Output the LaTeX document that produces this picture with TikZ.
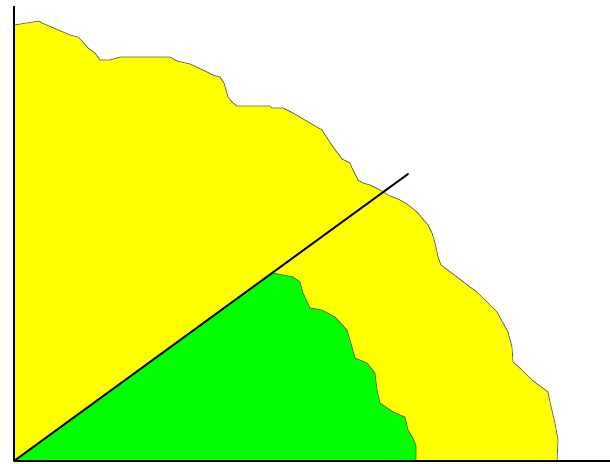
\documentclass[tikz,border=0pt]{standalone}
\begin{document}
\begin{tikzpicture}[x=1pt,y=-1pt,
  axisline/.style={black,line width=2.4pt},
  diagline/.style={black,line width=1.9pt,line cap=round},
  edge/.style={draw=black!65,line width=0.7pt,line join=round}]
\useasboundingbox (0,0) rectangle (610,463);
\definecolor{fillyellow}{RGB}{255,255,0}
\definecolor{fillgreen}{RGB}{0,255,0}
\coordinate (O) at (14,461);
\coordinate (Ytop) at (14,6);
\coordinate (Xend) at (610,461);
\coordinate (Dend) at (408,174);
% yellow region
\fill[fillyellow] (O) -- (14,25) -- (33,22) -- (39,21) -- (42,23) -- (63,32) -- (70,35) -- (78,37) -- (82,41) -- (88,48) -- (95,53) -- (100,60) -- (110,60) -- (120,57) -- (170,57) -- (177,61) -- (190,64) -- (203,70) -- (213,75) -- (220,77) -- (224,83) -- (228,97) -- (232,102) -- (237,106) -- (270,106) -- (272,108) -- (283,108) -- (293,113) -- (310,123) -- (322,130) -- (333,147) -- (342,159) -- (350,163) -- (352,168) -- (358,180) -- (363,183) -- (370,185) -- (380,190) -- (388,195) -- (400,200) -- (407,204) -- (417,212) -- (422,218) -- (428,225) -- (432,233) -- (435,243) -- (438,257) -- (441,265) -- (445,268) -- (457,277) -- (470,287) -- (477,292) -- (488,303) -- (497,312) -- (508,332) -- (512,347) -- (513,362) -- (522,370) -- (532,380) -- (548,392) -- (550,402) -- (555,423) -- (558,440) -- (557,461) -- cycle;
\draw[edge] (14,25) -- (33,22) -- (39,21) -- (42,23) -- (63,32) -- (70,35) -- (78,37) -- (82,41) -- (88,48) -- (95,53) -- (100,60) -- (110,60) -- (120,57) -- (170,57) -- (177,61) -- (190,64) -- (203,70) -- (213,75) -- (220,77) -- (224,83) -- (228,97) -- (232,102) -- (237,106) -- (270,106) -- (272,108) -- (283,108) -- (293,113) -- (310,123) -- (322,130) -- (333,147) -- (342,159) -- (350,163) -- (352,168) -- (358,180) -- (363,183) -- (370,185) -- (380,190) -- (388,195) -- (400,200) -- (407,204) -- (417,212) -- (422,218) -- (428,225) -- (432,233) -- (435,243) -- (438,257) -- (441,265) -- (445,268) -- (457,277) -- (470,287) -- (477,292) -- (488,303) -- (497,312) -- (508,332) -- (512,347) -- (513,362) -- (522,370) -- (532,380) -- (548,392) -- (550,402) -- (555,423) -- (558,440) -- (557,461);
% green region
\fill[fillgreen] (O) -- (273,273) -- (293,277) -- (300,282) -- (303,293) -- (310,308) -- (322,310) -- (335,317) -- (347,330) -- (350,340) -- (355,358) -- (367,363) -- (375,373) -- (377,390) -- (380,403) -- (393,412) -- (405,417) -- (408,430) -- (413,438) -- (416,446) -- (416,461) -- cycle;
\draw[edge] (273,273) -- (293,277) -- (300,282) -- (303,293) -- (310,308) -- (322,310) -- (335,317) -- (347,330) -- (350,340) -- (355,358) -- (367,363) -- (375,373) -- (377,390) -- (380,403) -- (393,412) -- (405,417) -- (408,430) -- (413,438) -- (416,446) -- (416,461);
% diagonal and axes
\draw[diagline] (O) -- (Dend);
\draw[axisline] (Ytop) -- (O);
\draw[axisline] (O) -- (Xend);
\end{tikzpicture}
\end{document}
